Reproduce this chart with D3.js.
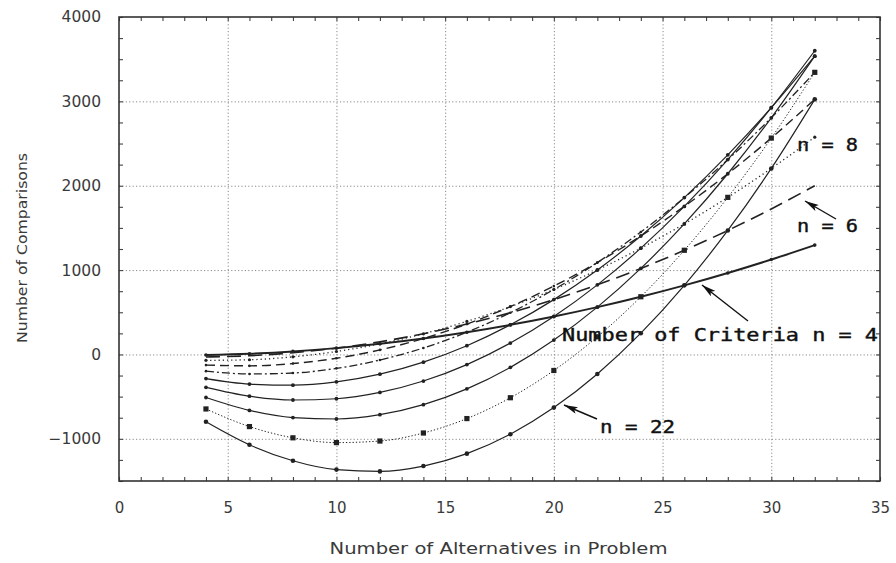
<!DOCTYPE html>
<html><head><meta charset="utf-8">
<script src="https://cdn.jsdelivr.net/npm/d3@7"></script>
<style>
html,body{margin:0;padding:0;background:#fff;}
svg{display:block;}
</style></head>
<body>
<svg id="chart" width="896" height="563"></svg>
<script>
// ---- data ----
const alternatives = [4,6,8,10,12,14,16,18,20,22,24,26,28,30,32];
const xTickLabels = [0,5,10,15,20,25,30,35];
const yTickLabels = [-1000,0,1000,2000,3000,4000];
const n4  = [-6, 9, 36, 75, 126, 189, 264, 351, 450, 561, 684, 819, 966, 1125, 1296];
const n6  = [-30, -15, 20, 75, 150, 245, 360, 495, 650, 825, 1020, 1235, 1470, 1725, 2000];
const n8  = [-70, -63, -28, 35, 126, 245, 392, 567, 770, 1001, 1260, 1547, 1862, 2205, 2576];
const n10 = [-126, -135, -108, -45, 54, 189, 360, 567, 810, 1089, 1404, 1755, 2142, 2565, 3024];
const n12 = [-198, -231, -220, -165, -66, 77, 264, 495, 770, 1089, 1452, 1859, 2310, 2805, 3344];
const n14 = [-286, -351, -364, -325, -234, -91, 104, 351, 650, 1001, 1404, 1859, 2366, 2925, 3536];
const n16 = [-390, -495, -540, -525, -450, -315, -120, 135, 450, 825, 1260, 1755, 2310, 2925, 3600];
const n18 = [-510, -663, -748, -765, -714, -595, -408, -153, 170, 561, 1020, 1547, 2142, 2805, 3536];
const n20 = [-646, -855, -988, -1045, -1026, -931, -760, -513, -190, 209, 684, 1235, 1862, 2565, 3344];
const n22 = [-798, -1071, -1260, -1365, -1386, -1323, -1176, -945, -630, -231, 252, 819, 1470, 2205, 3024];

const series = [
  {name:"n4",  values:n4,  dash:null,        w:2.0, marker:"dot",  r:1.8},
  {name:"n6",  values:n6,  dash:"14,7",      w:1.6, marker:null,   r:0},
  {name:"n8",  values:n8,  dash:"1.2,3",     w:1.3, marker:"dot",  r:1.6},
  {name:"n10", values:n10, dash:"9,5",       w:1.4, marker:"dot",  r:1.3},
  {name:"n12", values:n12, dash:"8,3,2,3",   w:1.3, marker:"dot",  r:1.3},
  {name:"n14", values:n14, dash:null,        w:1.2, marker:"dot",  r:1.9},
  {name:"n16", values:n16, dash:null,        w:1.2, marker:"dot",  r:1.9},
  {name:"n18", values:n18, dash:null,        w:1.2, marker:"dot",  r:1.9},
  {name:"n20", values:n20, dash:"1.3,2",     w:1.0, marker:"sq",   r:2.6},
  {name:"n22", values:n22, dash:null,        w:1.2, marker:"dot",  r:2.3}
];

// ---- layout ----
const svg = d3.select("#chart");
const L = 119, R = 880, T = 17, B = 481;
const x = d3.scaleLinear().domain([0,35]).range([L,R]);
const y = d3.scaleLinear().domain([-1500,4000]).range([B,T]);
const ink = "#222";

// grid
svg.append("g").attr("transform",`translate(0,${B})`)
  .call(d3.axisBottom(x).tickValues([5,10,15,20,25,30]).tickSize(-(B-T)).tickFormat(""))
  .call(g=>g.select(".domain").remove())
  .call(g=>g.selectAll("line").attr("stroke","#8a8a8a").attr("stroke-dasharray","1.2,2.2").attr("stroke-width",1));
svg.append("g").attr("transform",`translate(${L},0)`)
  .call(d3.axisLeft(y).tickValues([-1000,0,1000,2000,3000]).tickSize(-(R-L)).tickFormat(""))
  .call(g=>g.select(".domain").remove())
  .call(g=>g.selectAll("line").attr("stroke","#8a8a8a").attr("stroke-dasharray","1.2,2.2").attr("stroke-width",1));

// minor ticks (inward) on all four sides
const xMinor = d3.range(0,36,1);
const yMinor = d3.range(-1500,4001,250);
function styleTicks(g){ g.select(".domain").remove(); g.selectAll("line").attr("stroke","#444").attr("stroke-width",1.1); }
svg.append("g").attr("transform",`translate(0,${B})`).call(d3.axisBottom(x).tickValues(xMinor).tickSize(-4).tickFormat("")).call(styleTicks);
svg.append("g").attr("transform",`translate(0,${T})`).call(d3.axisTop(x).tickValues(xMinor).tickSize(-4).tickFormat("")).call(styleTicks);
svg.append("g").attr("transform",`translate(${L},0)`).call(d3.axisLeft(y).tickValues(yMinor).tickSize(-4).tickFormat("")).call(styleTicks);
svg.append("g").attr("transform",`translate(${R},0)`).call(d3.axisRight(y).tickValues(yMinor).tickSize(-4).tickFormat("")).call(styleTicks);

// frame
svg.append("rect").attr("x",L).attr("y",T).attr("width",R-L).attr("height",B-T)
  .attr("fill","none").attr("stroke","#333").attr("stroke-width",1.6);

// tick labels
const labelFont = "DejaVu Sans, Verdana, sans-serif";
svg.append("g").attr("transform",`translate(0,${B})`)
  .call(d3.axisBottom(x).tickValues(xTickLabels).tickSize(0).tickPadding(21).tickFormat(d3.format("d")))
  .call(g=>g.select(".domain").remove())
  .call(g=>g.selectAll("text").attr("font-family",labelFont).attr("font-size",15).attr("fill","#3a3a3a"));
svg.append("g").attr("transform",`translate(${L},0)`)
  .call(d3.axisLeft(y).tickValues(yTickLabels).tickSize(0).tickPadding(18).tickFormat(d=>d<0?"\u2212"+Math.abs(d):String(d)))
  .call(g=>g.select(".domain").remove())
  .call(g=>g.selectAll("text").attr("font-family",labelFont).attr("font-size",15.5).attr("fill","#3a3a3a"));

// axis titles
svg.append("text").attr("x",(L+R)/2 - 1).attr("y",554).attr("text-anchor","middle")
  .attr("font-family",labelFont).attr("font-size",15).attr("fill","#3a3a3a")
  .attr("textLength",338).attr("lengthAdjust","spacingAndGlyphs")
  .text("Number of Alternatives in Problem");
svg.append("text").attr("transform","translate(27,248) rotate(-90)").attr("text-anchor","middle")
  .attr("font-family",labelFont).attr("font-size",14).attr("fill","#3a3a3a")
  .attr("textLength",190).attr("lengthAdjust","spacingAndGlyphs")
  .text("Number of Comparisons");

// curves
const line = d3.line().x((d,i)=>x(alternatives[i])).y(d=>y(d)).curve(d3.curveMonotoneX);
const plot = svg.append("g");
series.forEach(s=>{
  plot.append("path").datum(s.values).attr("d",line)
    .attr("fill","none").attr("stroke",ink).attr("stroke-width",s.w)
    .attr("stroke-dasharray",s.dash);
  if(s.marker==="dot"){
    plot.selectAll(null).data(s.values).enter().append("circle")
      .attr("cx",(d,i)=>x(alternatives[i])).attr("cy",d=>y(d)).attr("r",s.r).attr("fill",ink);
  } else if(s.marker==="sq"){
    plot.selectAll(null).data(s.values).enter().append("rect")
      .attr("x",(d,i)=>x(alternatives[i])-s.r).attr("y",d=>y(d)-s.r)
      .attr("width",2*s.r).attr("height",2*s.r).attr("fill",ink);
  }
});

// annotations
const defs = svg.append("defs");
defs.append("marker").attr("id","ah").attr("viewBox","0 0 14 7").attr("refX",14).attr("refY",3.5)
  .attr("markerWidth",14).attr("markerHeight",7).attr("markerUnits","userSpaceOnUse").attr("orient","auto")
  .append("path").attr("d","M0,0 L14,3.5 L0,7 L3,3.5 Z").attr("fill","#111");
const annFont = "DejaVu Sans Mono, monospace";
function ann(txt, xx, yy, len){
  svg.append("text").attr("x",xx).attr("y",yy).attr("font-family",annFont).attr("font-size",17)
    .attr("fill","#111").attr("stroke","#111").attr("stroke-width",0.4)
    .attr("textLength",len).attr("lengthAdjust","spacingAndGlyphs").text(txt);
}
function arrow(x1,y1,x2,y2){
  svg.append("line").attr("x1",x1).attr("y1",y1).attr("x2",x2).attr("y2",y2)
    .attr("stroke","#111").attr("stroke-width",1.4).attr("marker-end","url(#ah)");
}
ann("Number of Criteria n = 4", 562, 341, 316);
ann("n = 8", 797, 151, 61);
ann("n = 6", 797, 232, 61);
ann("n = 22", 600, 433, 75);
arrow(748,321,702,285);
arrow(836,219,805,201);
arrow(597,419,564,405);
</script>
</body></html>
